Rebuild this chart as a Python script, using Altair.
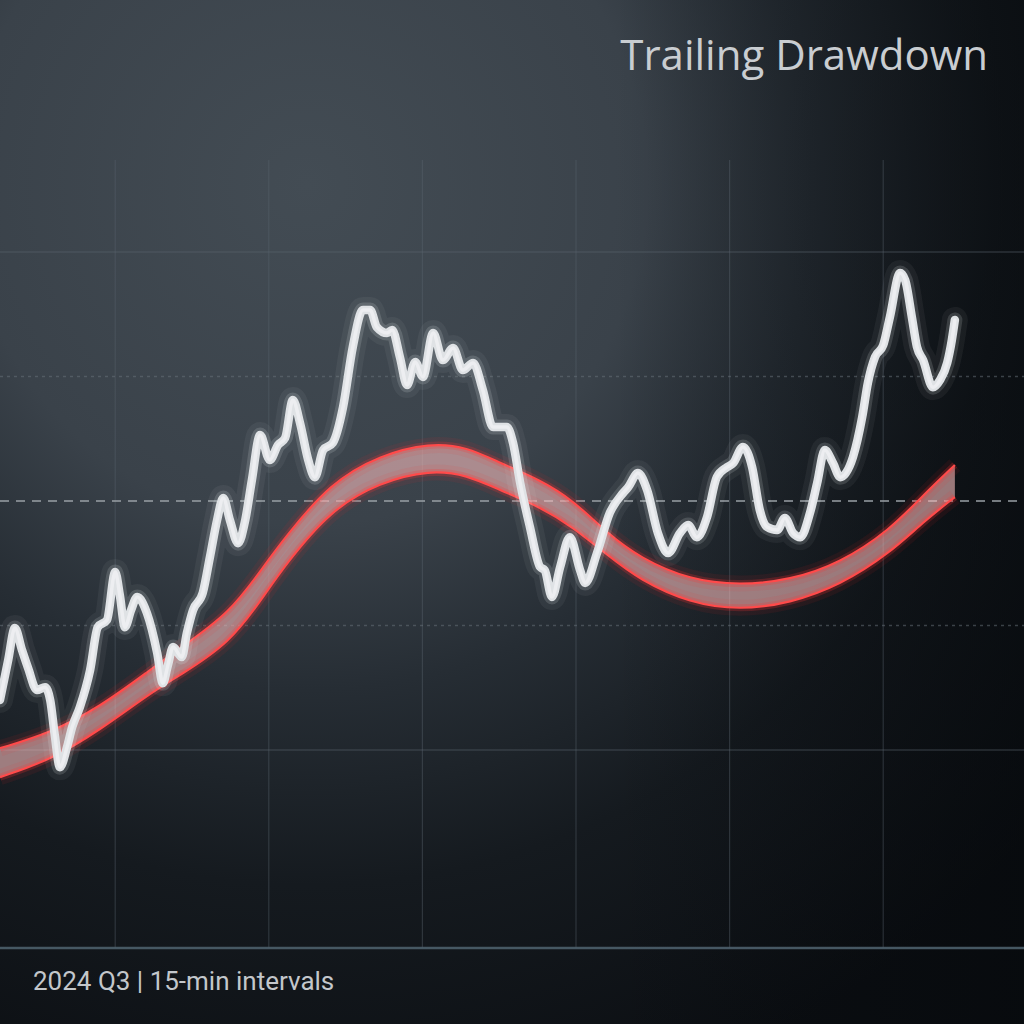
import altair as alt
import pandas as pd

# ---- data ----
price_t = [0, 1.6, 2.9, 4.3, 5.5, 7.2, 8.8, 9.8, 10.7, 11.7, 13.1, 14.1, 15.6, 17.6, 19.1, 20.9,
           22.5, 23.4, 24.4, 25.6, 26.8, 28.7, 30.7, 31.8, 32.8, 33.8, 35.5, 36.5, 37.7, 39.6,
           41.0, 42.4, 43.6, 44.9, 46.5, 47.9, 49.2, 50.8, 52.7, 54.3, 55.7, 57.2, 58.6, 60.2,
           61.5, 63.1, 65.0, 67.0, 68.9, 70.9, 72.3, 73.6, 75.6, 76.6, 78.1, 79.5, 81.1, 82.6,
           84.6, 86.5, 88.5, 90.4, 92.4, 94.3, 96.3, 99.0, 100.2, 101.6, 103.5, 105.5, 106.4,
           107.8, 109.4, 111.3, 113.3, 114.3, 116.6, 119.1, 121.7, 122.7, 124.6, 126.4, 128.5,
           130.5, 132.8, 134.4, 136.1, 138.1, 140.0, 142.0, 143.2, 145.1, 146.9, 148.4, 149.8,
           151.8, 153.3, 154.9, 156.3, 158.2, 159.6, 161.1, 162.7, 164.1, 166.6, 168.4, 169.5,
           170.9, 172.5, 173.8, 175.8, 176.8, 178.1, 179.1, 180.3, 182.2, 183.6, 185.0, 185.9, 186.5]
price_v = [97.61, 98.89, 99.92, 99.21, 98.63, 97.93, 98.02, 97.61, 96.48, 95.45, 96.10, 96.74,
           97.38, 98.57, 99.95, 100.18, 101.72, 100.98, 99.95, 100.50, 100.92, 100.40, 99.12,
           98.15, 98.73, 99.31, 98.99, 99.76, 100.50, 101.05, 102.20, 103.39, 104.10, 103.39,
           102.65, 103.39, 104.68, 106.12, 105.32, 105.80, 106.03, 107.25, 106.51, 105.32,
           104.77, 105.64, 105.87, 107.02, 108.95, 110.14, 110.14, 109.59, 109.40, 109.50,
           108.63, 107.73, 108.47, 107.99, 109.40, 108.53, 108.92, 108.21, 108.44, 107.57,
           106.38, 106.38, 105.87, 104.58, 103.17, 101.88, 101.78, 100.92, 101.88, 102.84,
           101.78, 101.37, 102.33, 103.62, 104.26, 104.45, 104.90, 104.35, 102.97, 102.33,
           102.97, 103.23, 102.84, 103.49, 104.77, 105.09, 105.22, 105.74, 105.09, 103.71,
           103.17, 103.07, 103.46, 102.97, 102.84, 103.62, 104.58, 105.64, 105.22, 104.77,
           105.42, 106.70, 107.79, 108.63, 109.01, 109.91, 111.33, 111.10, 109.91, 108.95,
           108.53, 107.66, 107.89, 108.44, 109.17, 109.82]

stop_t = [0, 9.8, 19.5, 29.3, 35.2, 44.9, 51.4, 55.7, 64.5, 74.2, 84.0, 91.2, 97.7, 105.5,
          111.9, 118.6, 125.0, 134.8, 144.5, 154.3, 164.1, 173.8, 180.3, 186.5]
stop_upper = [96.06, 96.55, 97.38, 98.57, 99.28, 100.40, 101.88, 102.84, 104.58, 105.48,
              105.87, 105.74, 105.22, 104.68, 104.03, 102.97, 102.17, 101.46, 101.30, 101.46,
              102.01, 103.07, 104.19, 105.16]
stop_lower = [95.13, 95.68, 96.64, 97.83, 98.41, 99.44, 100.92, 101.95, 103.71, 104.61,
              105.00, 104.84, 104.35, 103.81, 103.17, 102.27, 101.46, 100.72, 100.50, 100.72,
              101.30, 102.33, 103.33, 104.13]

grid_x = [22.5, 52.5, 82.5, 112.5, 142.5, 172.5]
grid_solid = [112, 96]
grid_dotted = [108, 100]
grid_dashed = [104]
baseline = [89.64]

title_text = "Trailing Drawdown"
footer_text = "2024 Q3 | 15-min intervals"

# ---- tables ----
price = pd.DataFrame({"t": price_t, "v": price_v})
stop = pd.DataFrame({"t": stop_t, "up": stop_upper, "lo": stop_lower})

X = alt.Scale(domain=[0, 200], nice=False, zero=False)
Y = alt.Scale(domain=[87.2, 120.1], nice=False, zero=False)

one = pd.DataFrame({"a": [0]})
bg = alt.Chart(one).mark_rect(
    color={
        "gradient": "radial",
        "x1": 0.3, "y1": 0.18, "r1": 0,
        "x2": 0.3, "y2": 0.18, "r2": 0.95,
        "stops": [
            {"offset": 0.0, "color": "#434c54"},
            {"offset": 0.35, "color": "#3a424a"},
            {"offset": 0.52, "color": "#262d34"},
            {"offset": 0.72, "color": "#151a1f"},
            {"offset": 1.0, "color": "#0b0e12"},
        ],
    }
).encode(x=alt.value(0), x2=alt.value(1024), y=alt.value(0), y2=alt.value(1024))

shade = alt.Chart(one).mark_rect(
    color={
        "gradient": "linear", "x1": 0, "y1": 0, "x2": 1, "y2": 0,
        "stops": [
            {"offset": 0.0, "color": "rgba(5,8,11,0)"},
            {"offset": 0.6, "color": "rgba(5,8,11,0)"},
            {"offset": 1.0, "color": "rgba(5,8,11,0.55)"},
        ],
    }
).encode(x=alt.value(0), x2=alt.value(1024), y=alt.value(0), y2=alt.value(1024))

vgrid = alt.Chart(pd.DataFrame({"g": grid_x})).mark_rule(
    color="#5a646d", strokeWidth=1.2, opacity=0.4
).encode(x=alt.X("g:Q", scale=X, axis=None), y=alt.value(160), y2=alt.value(948))

hsolid = alt.Chart(pd.DataFrame({"g": grid_solid})).mark_rule(
    color="#5a646d", strokeWidth=1.5, opacity=0.4
).encode(y=alt.Y("g:Q", scale=Y, axis=None), x=alt.value(0), x2=alt.value(1024))

hdotted = alt.Chart(pd.DataFrame({"g": grid_dotted})).mark_rule(
    color="#6a747c", strokeWidth=1.5, opacity=0.5, strokeDash=[3, 4]
).encode(y=alt.Y("g:Q", scale=Y, axis=None), x=alt.value(0), x2=alt.value(1024))

hdashed = alt.Chart(pd.DataFrame({"g": grid_dashed})).mark_rule(
    color="#9aa0a6", strokeWidth=2, opacity=0.75, strokeDash=[9, 7]
).encode(y=alt.Y("g:Q", scale=Y, axis=None), x=alt.value(0), x2=alt.value(1024))

base_rule = alt.Chart(pd.DataFrame({"g": baseline})).mark_rule(
    color="#4d5f6b", strokeWidth=2.5, opacity=0.9
).encode(y=alt.Y("g:Q", scale=Y, axis=None), x=alt.value(0), x2=alt.value(1024))

sb = alt.Chart(stop)
band_fill = sb.mark_area(color="#f6bcbc", opacity=0.6, interpolate="basis").encode(
    x=alt.X("t:Q", scale=X, axis=None), y=alt.Y("up:Q", scale=Y, axis=None), y2="lo:Q")

def edge(field, width, op, col):
    return sb.mark_line(color=col, strokeWidth=width, opacity=op, interpolate="basis",
                        strokeCap="butt").encode(
        x=alt.X("t:Q", scale=X, axis=None), y=alt.Y(f"{field}:Q", scale=Y, axis=None))

red_layers = [
    edge("up", 16, 0.08, "#ff2a2a"), edge("lo", 16, 0.08, "#ff2a2a"),
    edge("up", 7, 0.22, "#ff3030"), edge("lo", 7, 0.22, "#ff3030"),
    edge("up", 2.2, 1.0, "#ff4a4a"), edge("lo", 2.2, 1.0, "#ff4a4a"),
]

pb = alt.Chart(price)
def pline(width, op, col):
    return pb.mark_line(color=col, strokeWidth=width, opacity=op, interpolate="monotone",
                        strokeCap="round", strokeJoin="round").encode(
        x=alt.X("t:Q", scale=X, axis=None), y=alt.Y("v:Q", scale=Y, axis=None))

white_layers = [pline(26, 0.05, "#ffffff"), pline(15, 0.15, "#f4f6f8"),
                pline(8.5, 1.0, "#dfe2e5"), pline(3.5, 0.6, "#f6f7f8")]

title = alt.Chart(pd.DataFrame({"s": [title_text]})).mark_text(
    align="right", baseline="alphabetic", fontSize=42, font="Open Sans",
    color="#c9cdd1"
).encode(text="s:N", x=alt.value(988), y=alt.value(70))

footer = alt.Chart(pd.DataFrame({"s": [footer_text]})).mark_text(
    align="left", baseline="middle", fontSize=26, font="Roboto", color="#c3c7cb"
).encode(text="s:N", x=alt.value(33), y=alt.value(982))

chart = alt.layer(
    bg, shade, vgrid, hsolid, hdotted, hdashed, base_rule,
    band_fill, *red_layers, *white_layers, title, footer
).properties(
    width=1024, height=1024, padding=0, autosize=alt.AutoSizeParams(type="none"),
    background="#0b0e12"
).configure_view(stroke=None)

chart.save("out.html", embed_options={"renderer": "svg", "actions": False})
